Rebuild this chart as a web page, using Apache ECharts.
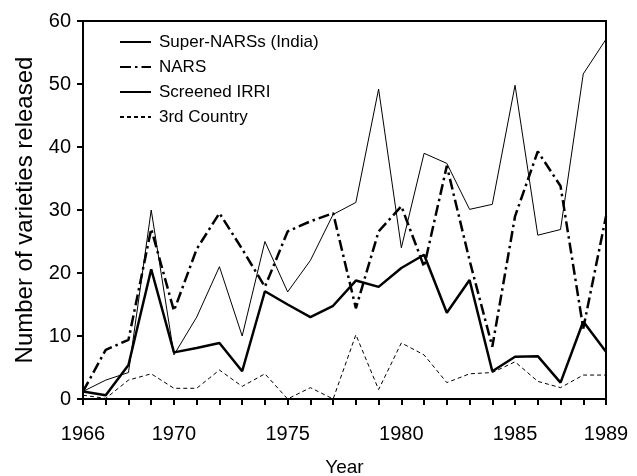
<!DOCTYPE html>
<html>
<head>
<meta charset="utf-8">
<script src="https://cdn.jsdelivr.net/npm/echarts@6/dist/echarts.min.js"></script>
<style>
  html, body { margin: 0; padding: 0; background: #fff; }
  #main { width: 637px; height: 476px; }
</style>
</head>
<body>
<div id="main"></div>
<script>
  // years on the x axis
  const years = ['1966', '1967', '1968', '1969', '1970', '1971', '1972', '1973', '1974', '1975', '1976', '1977',
    '1978', '1979', '1980', '1981', '1982', '1983', '1984', '1985', '1986', '1987', '1988', '1989']
  const yearLabels = ['1966', '1970', '1975', '1980', '1985', '1989']

  const superNars = [1.2, 3, 4.2, 30, 7, 13, 21, 10, 25, 17, 22, 29.3, 31.2, 49.2, 24, 39, 37.4, 30.1, 30.9, 49.8, 26, 26.9, 51.6, 57.1]
  const nars = [1.2, 7.8, 9.4, 27, 14, 23.8, 29.5, 23.8, 17.8, 26.6, 28.2, 29.5, 14.4, 26.6, 30.6, 21, 37, 22, 8.3, 29, 39.3, 33.8, 11.2, 29]
  const screenedIrri = [1.2, 0.6, 5.4, 20.6, 7.4, 8.1, 8.9, 4.4, 17.1, 15, 13, 14.8, 18.8, 17.8, 20.8, 22.9, 13.7, 18.9, 4.4, 6.7, 6.8, 2.6, 12.3, 7.5]
  const thirdCountry = [0.6, 0.1, 3, 4, 1.7, 1.7, 4.6, 2, 4, 0, 1.8, 0, 10.2, 1.5, 8.9, 7, 2.6, 4, 4.2, 5.9, 2.8, 1.8, 3.8, 3.8]

  const font = "'Liberation Sans', Arial, sans-serif"

  const chart = echarts.init(document.getElementById('main'))

  function line (name, data, width, type) {
    return {
      name: name,
      type: 'line',
      data: data,
      symbol: 'none',
      animation: false,
      color: '#000',
      lineStyle: { color: '#000', width: width, type: type }
    }
  }

  chart.setOption({
    backgroundColor: '#fff',
    textStyle: { fontFamily: font, color: '#000' },
    grid: {
      left: 83, right: 31, top: 21, bottom: 77,
      outerBoundsMode: 'none',
      show: true, borderColor: '#000', borderWidth: 2
    },
    legend: {
      orient: 'vertical',
      left: 119,
      top: 32,
      padding: 0,
      itemWidth: 31,
      itemHeight: 14,
      itemGap: 5,
      itemStyle: { opacity: 0 },
      textStyle: { fontFamily: font, fontSize: 17, color: '#000', lineHeight: 20, padding: [0, 0, 0, 3] },
      data: ['Super-NARSs (India)', 'NARS', 'Screened IRRI', '3rd Country']
    },
    xAxis: {
      type: 'category',
      data: years,
      boundaryGap: false,
      name: 'Year',
      nameLocation: 'middle',
      nameGap: 59,
      nameTextStyle: { fontSize: 19, color: '#000', fontFamily: font },
      axisLine: { lineStyle: { color: '#000', width: 2 } },
      axisTick: { interval: 0, length: 6, lineStyle: { color: '#000', width: 2 } },
      axisLabel: {
        interval: (i, v) => yearLabels.includes(v),
        margin: 25,
        fontSize: 20,
        color: '#000',
        fontFamily: font
      },
      splitLine: { show: false }
    },
    yAxis: {
      type: 'value',
      min: 0,
      max: 60,
      interval: 10,
      name: 'Number of varieties released',
      nameLocation: 'middle',
      nameGap: 38,
      nameTextStyle: { fontSize: 24, color: '#000', fontFamily: font },
      axisLine: { show: true, lineStyle: { color: '#000', width: 2 } },
      axisTick: { show: true, length: 6, lineStyle: { color: '#000', width: 2 } },
      axisLabel: { margin: 12, fontSize: 20, color: '#000', fontFamily: font },
      splitLine: { show: false }
    },
    series: [
      line('Super-NARSs (India)', superNars, 1, 'solid'),
      line('NARS', nars, 2.5, [11, 4, 2.5, 4]),
      line('Screened IRRI', screenedIrri, 2.5, 'solid'),
      line('3rd Country', thirdCountry, 1, [4, 3])
    ]
  })
</script>
</body>
</html>
